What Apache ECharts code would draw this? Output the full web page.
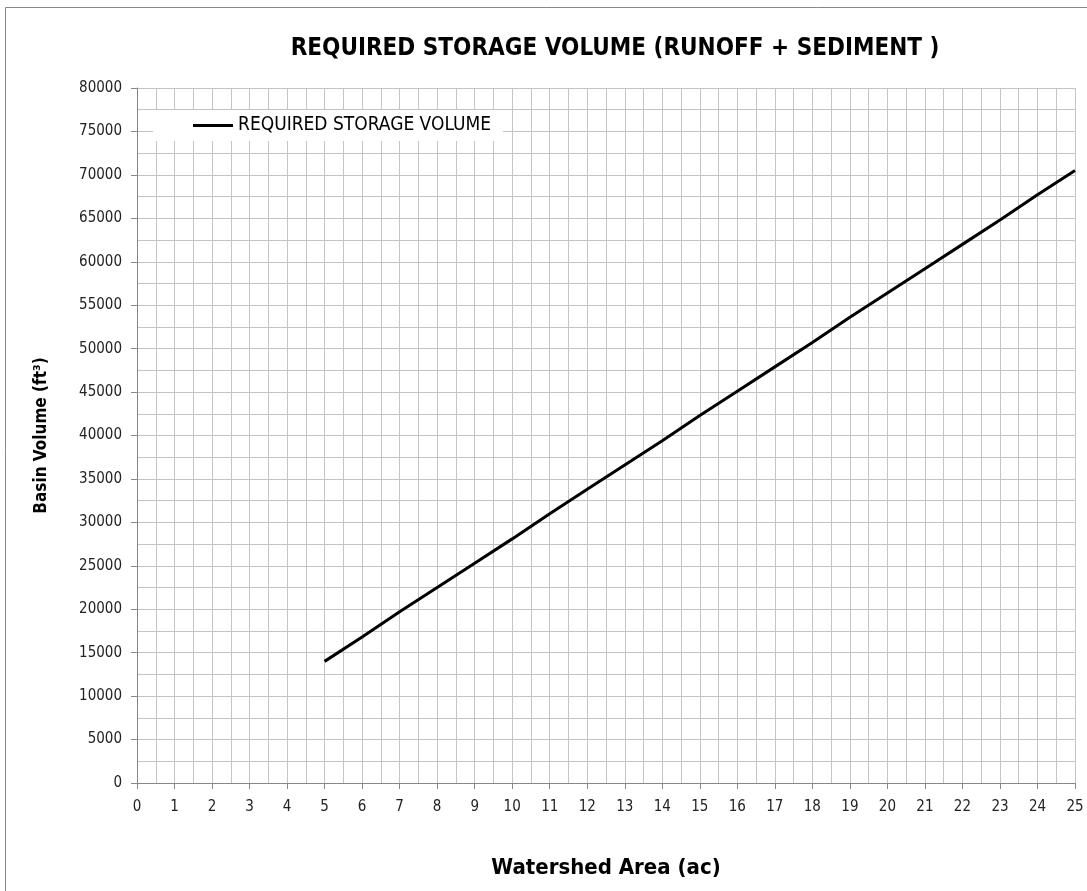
<!DOCTYPE html>
<html>
<head>
<meta charset="utf-8">
<script src="https://cdn.jsdelivr.net/npm/echarts@6/dist/echarts.min.js"></script>
<style>
    html, body { margin: 0; padding: 0; background: #fff; }
    #chart { width: 1087px; height: 891px; }
</style>
</head>
<body>
<div id="chart"></div>
<script>
// watershed area (ac) and required storage volume (ft3)
var areas = [5, 6, 7, 8, 9, 10, 11, 12, 13, 14, 15, 16, 17, 18, 19, 20, 21, 22, 23, 24, 25];
var volumes = [14000, 16800, 19700, 22500, 25300, 28100, 31000, 33800, 36600, 39400, 42300,
    45100, 47900, 50700, 53600, 56400, 59200, 62000, 64800, 67700, 70500];
var seriesName = 'REQUIRED STORAGE VOLUME';
var chartTitle = 'REQUIRED STORAGE VOLUME (RUNOFF + SEDIMENT )';

var font = "'Liberation Sans Narrow', 'DejaVu Sans Condensed', sans-serif";
var gridColor = '#c4c4c4';
var axisColor = '#868686';

var chart = echarts.init(document.getElementById('chart'));
chart.setOption({
    backgroundColor: '#fff',
    animation: false,
    title: {
        text: chartTitle,
        left: 610,
        textAlign: 'center',
        top: 32,
        textStyle: { fontFamily: font, fontSize: 24, fontWeight: 'bold', color: '#000' }
    },
    legend: {
        data: [seriesName],
        left: 153,
        top: 110,
        backgroundColor: '#fff',
        padding: [6, 12, 6, 40],
        icon: 'rect',
        itemWidth: 40,
        itemHeight: 3,
        textStyle: { fontFamily: font, fontSize: 19, color: '#000' }
    },
    grid: { left: 137, right: 12, top: 88, bottom: 108 },
    xAxis: {
        type: 'value',
        min: 0,
        max: 25,
        interval: 1,
        name: 'Watershed Area (ac)',
        nameLocation: 'middle',
        nameGap: 74,
        nameTextStyle: { fontFamily: font, fontSize: 22, fontWeight: 'bold', color: '#000' },
        axisLine: { show: true, lineStyle: { color: axisColor } },
        axisTick: { show: true, inside: false, length: 6, lineStyle: { color: axisColor } },
        axisLabel: { fontFamily: font, fontSize: 15, color: '#222', margin: 17 },
        splitLine: { show: true, lineStyle: { color: gridColor } },
        minorTick: { show: true, splitNumber: 2, length: 0 },
        minorSplitLine: { show: true, lineStyle: { color: gridColor } }
    },
    yAxis: {
        type: 'value',
        min: 0,
        max: 80000,
        interval: 5000,
        name: 'Basin Volume (ft³)',
        nameLocation: 'middle',
        nameRotate: 90,
        nameGap: 87,
        nameTextStyle: { fontFamily: font, fontSize: 17, fontWeight: 'bold', color: '#000' },
        axisLine: { show: true, lineStyle: { color: axisColor } },
        axisTick: { show: true, inside: false, length: 6, lineStyle: { color: axisColor } },
        axisLabel: {
            fontFamily: font, fontSize: 15, color: '#222', margin: 15,
            formatter: function (v) { return String(v); }
        },
        splitLine: { show: true, lineStyle: { color: gridColor } },
        minorTick: { show: true, splitNumber: 2, length: 0 },
        minorSplitLine: { show: true, lineStyle: { color: gridColor } }
    },
    graphic: [{
        type: 'rect',
        shape: { x: 5.5, y: 7.5, width: 1100, height: 900 },
        style: { fill: 'none', stroke: axisColor, lineWidth: 1 },
        silent: true
    }],
    series: [{
        name: seriesName,
        type: 'line',
        data: areas.map(function (a, i) { return [a, volumes[i]]; }),
        showSymbol: false,
        lineStyle: { color: '#000', width: 3 },
        itemStyle: { color: '#000' }
    }]
});
</script>
</body>
</html>
